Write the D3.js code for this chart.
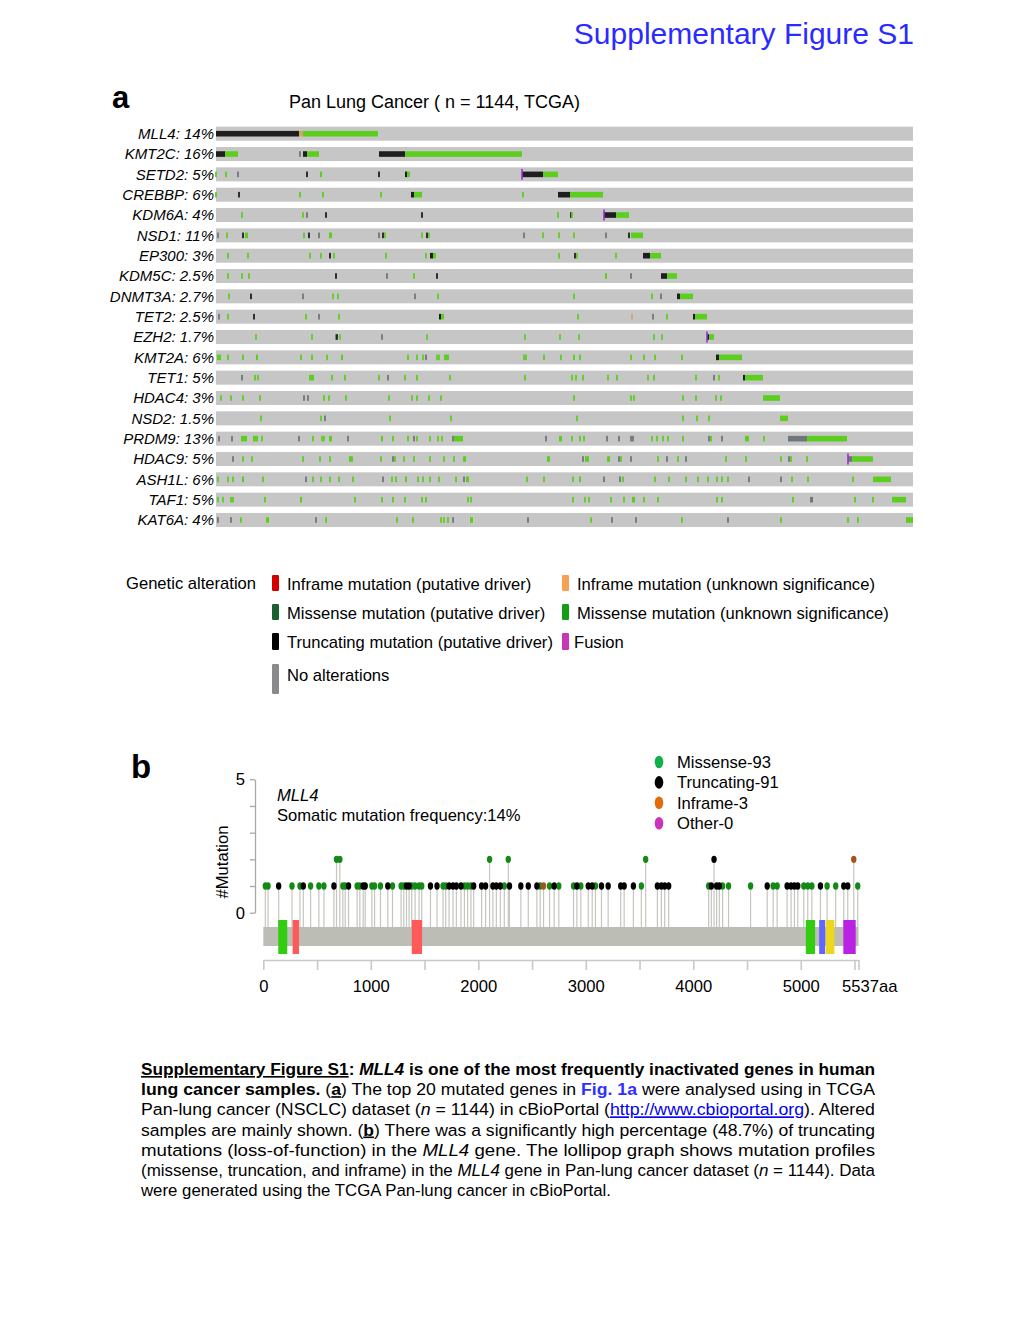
<!DOCTYPE html>
<html><head><meta charset="utf-8">
<script src="https://cdn.jsdelivr.net/npm/d3@7"></script>
<style>
body{margin:0;background:#fff;}
svg{display:block;font-family:"Liberation Sans",Arial,sans-serif;}
</style>
</head><body>
<svg id="fig" width="1020" height="1320"></svg>
<script>
// ---------- Panel a data (oncoprint) ----------
const genes = ["MLL4","KMT2C","SETD2","CREBBP","KDM6A","NSD1","EP300","KDM5C","DNMT3A","TET2",
  "EZH2","KMT2A","TET1","HDAC4","NSD2","PRDM9","HDAC9","ASH1L","TAF1","KAT6A"];
const geneFreq = ["14%","16%","5%","6%","4%","11%","3%","2.5%","2.7%","2.5%",
  "1.7%","6%","5%","3%","1.5%","13%","5%","6%","5%","4%"];
const nColumns = 697;
// [start column, end column, type] or [column, type]
const alterations = [
 [[0,83,'T'],[83,87,'i'],[87,162,'m']],
 [[0,9,'T'],[9,22,'m'],[84,'t'],[87,91,'T'],[91,103,'m'],[163,189,'T'],[189,306,'m']],
 [[0,'m'],[10,'m'],[22,'t'],[91,'T'],[104,106,'m'],[163,'T'],[189,191,'T'],[191,194,'m'],[306,327,'T'],[327,342,'m'],[306,'F']],
 [[0,'m'],[23,'T'],[84,'m'],[107,'m'],[165,'m'],[195,198,'T'],[198,206,'m'],[307,'m'],[342,354,'T'],[354,387,'m']],
 [[26,'m'],[87,'m'],[91,'t'],[110,'T'],[206,'T'],[342,'m'],[355,'T'],[356,'m'],[388,400,'T'],[400,413,'m'],[388,'F']],
 [[2,'t'],[11,'m'],[27,'T'],[29,32,'m'],[88,'m'],[93,'T'],[103,'t'],[113,116,'m'],[163,'t'],[167,'T'],[169,'m'],[206,'m'],[211,'T'],[213,'m'],[308,'t'],[327,'m'],[343,'m'],[358,'m'],[390,'t'],[413,'T'],[415,427,'m']],
 [[12,'m'],[32,'m'],[94,'m'],[105,'m'],[114,'T'],[118,'m'],[170,'m'],[210,'m'],[214,217,'T'],[217,220,'m'],[343,'m'],[359,'T'],[361,'m'],[400,'m'],[427,434,'T'],[434,445,'m']],
 [[12,'m'],[26,'m'],[33,'m'],[120,'T'],[171,'t'],[198,'m'],[221,'T'],[389,391,'m'],[415,'t'],[445,451,'T'],[451,461,'m']],
 [[13,'m'],[35,'T'],[87,'t'],[117,'m'],[122,'m'],[199,'t'],[222,'m'],[358,'m'],[436,'m'],[445,'t'],[461,464,'T'],[464,477,'m']],
 [[3,'t'],[12,'m'],[38,'T'],[90,'m'],[103,'t'],[123,'m'],[223,225,'T'],[225,228,'m'],[362,'m'],[416,'i'],[437,'t'],[451,'m'],[477,479,'T'],[479,491,'m']],
 [[40,'m'],[96,'m'],[120,'t'],[121,'T'],[124,'m'],[166,'t'],[211,'m'],[309,'m'],[344,'m'],[363,'m'],[438,'m'],[446,'m'],[491,493,'T'],[493,498,'m'],[491,'F']],
 [[1,5,'m'],[12,'m'],[27,'m'],[40,42,'m'],[85,'m'],[96,'m'],[111,'m'],[125,127,'m'],[192,'m'],[201,'m'],[207,'m'],[210,'t'],[221,'m'],[223,'m'],[228,233,'m'],[308,'m'],[310,'m'],[328,'m'],[345,'m'],[358,'m'],[364,'m'],[415,'m'],[428,'m'],[439,'m'],[466,'m'],[500,503,'T'],[503,526,'m']],
 [[26,'t'],[39,'m'],[42,'m'],[93,98,'m'],[116,'m'],[129,'m'],[163,'m'],[172,'t'],[189,'m'],[201,'m'],[234,'m'],[309,'m'],[356,'m'],[360,'m'],[367,'m'],[392,'m'],[401,'m'],[432,'m'],[438,'m'],[480,'m'],[498,'t'],[503,'m'],[527,529,'T'],[529,547,'m']],
 [[5,'m'],[15,'m'],[27,'m'],[44,'m'],[88,'t'],[92,'t'],[108,'m'],[113,'m'],[130,'m'],[173,'m'],[196,'m'],[201,'m'],[213,'m'],[225,'m'],[358,'m'],[415,'m'],[418,'m'],[467,'m'],[480,'m'],[500,'m'],[505,'m'],[547,564,'m']],
 [[45,'m'],[105,'m'],[109,'t'],[174,'m'],[235,'m'],[361,'m'],[467,'m'],[481,'m'],[493,'m'],[564,572,'m']],
 [[3,'t'],[16,'t'],[25,31,'m'],[37,42,'m'],[46,'m'],[83,'t'],[97,'m'],[106,'m'],[108,'m'],[113,116,'m'],[132,'t'],[165,167,'m'],[177,'m'],[192,'m'],[198,'t'],[201,'m'],[214,'m'],[222,'m'],[226,'m'],[237,'t'],[238,247,'m'],[330,'t'],[343,346,'m'],[356,'m'],[364,'m'],[368,'m'],[391,'t'],[403,'t'],[415,'t'],[417,'t'],[436,'m'],[441,'m'],[447,'m'],[452,'m'],[467,'m'],[493,'t'],[495,'m'],[506,'t'],[529,533,'m'],[548,'m'],[572,591,'t'],[591,631,'m']],
 [[17,'t'],[27,'m'],[36,'m'],[87,'m'],[104,'m'],[114,'m'],[133,137,'m'],[165,'m'],[177,'t'],[179,'m'],[188,'m'],[198,'m'],[214,'m'],[228,'m'],[238,'m'],[247,250,'m'],[331,334,'m'],[367,'t'],[369,373,'m'],[391,394,'m'],[403,'t'],[405,'m'],[415,'t'],[442,'m'],[451,'t'],[462,'m'],[470,'t'],[510,'m'],[530,'m'],[565,'m'],[573,'t'],[575,'m'],[591,'m'],[632,636,'t'],[636,657,'m'],[632,'F']],
 [[2,'m'],[12,'m'],[17,'m'],[26,28,'m'],[47,'m'],[90,'t'],[97,'m'],[105,'m'],[114,'m'],[123,'m'],[137,'m'],[167,'t'],[176,'m'],[180,'m'],[189,191,'m'],[202,'m'],[207,'m'],[214,'m'],[223,'m'],[240,'m'],[248,'t'],[250,253,'m'],[311,'m'],[328,'m'],[357,'m'],[363,365,'m'],[388,'t'],[404,'t'],[407,'m'],[439,'m'],[453,'m'],[470,'m'],[482,'m'],[492,'m'],[501,'m'],[506,'m'],[512,'m'],[533,'t'],[565,'t'],[576,'m'],[592,'m'],[637,'m'],[657,675,'m']],
 [[2,'m'],[7,'m'],[15,'m'],[17,'m'],[49,'m'],[84,86,'m'],[139,'m'],[166,'m'],[177,'m'],[189,'m'],[206,'m'],[210,'m'],[252,'m'],[255,'m'],[357,'m'],[369,'m'],[373,'m'],[395,'m'],[408,'m'],[416,419,'m'],[428,'m'],[442,'m'],[501,'m'],[506,'m'],[577,'m'],[594,597,'t'],[639,'m'],[657,'m'],[676,690,'m']],
 [[2,'t'],[15,'t'],[25,'m'],[50,53,'m'],[100,'t'],[110,'m'],[181,'m'],[197,'m'],[225,'m'],[228,'m'],[232,'m'],[237,'t'],[254,257,'m'],[312,'t'],[375,'m'],[396,'t'],[420,'t'],[466,'m'],[512,'t'],[565,'m'],[632,'m'],[642,'m'],[690,697,'m']]
];
const altColors = {T:"#1e1e1e", t:"#6f767c", m:"#5ccf1e", M:"#008000", i:"#cfa66c", F:"#9a2fd6"};

const legendLabels = ["Inframe mutation (putative driver)","Inframe mutation (unknown significance)",
  "Missense mutation (putative driver)","Missense mutation (unknown significance)",
  "Truncating mutation (putative driver)","Fusion","No alterations"];
const legendColors = ["#d40000","#f9a057","#1b5f2e","#12a012","#000000","#c935b2","#8a8a8a"];

// ---------- Panel b data (lollipop) ----------
const proteinLength = 5537;
const missensePos = [19,44,267,341,440,517,564,681,712,740,762,873,898,1010,1035,1090,1202,1282,1307,1381,1412,1449,1474,1672,1697,1871,1901,1932,2105,2242,2279,2576,2663,2749,2886,2954,3090,3517,3557,4143,4273,4328,4533,4743,4780,5028,5065,5103,5245,5325,5530];
const missenseCount = missensePos.map(p => [681,712,2105,2279,3557].includes(p) ? 2 : 1);
const truncPos = [143,372,657,793,929,948,1158,1332,1356,1555,1616,1728,1765,1796,1839,1957,2031,2068,2136,2168,2205,2290,2396,2465,2545,2706,2917,3023,3060,3146,3208,3325,3357,3443,3666,3703,3734,3771,4168,4193,4217,4242,4688,4873,4910,4941,4972,5183,5400,5437];
const truncCount = truncPos.map(p => p === 4193 ? 2 : 1);
const inframePos = [2607,5493];
const inframeCount = [1,2];
const domainStart = [139,273,1381,5047,5171,5233,5396];
const domainEnd   = [223,332,1477,5133,5227,5313,5511];
const domainColor = ["#33cc11","#ff5a5a","#ff5a5a","#33cc11","#6464ff","#ecd61e","#b922e2"];
const xTicks = [0,500,1000,1500,2000,2500,3000,3500,4000,4500,5000,5500,5537];
const lolliLegend = ["Missense-93","Truncating-91","Inframe-3","Other-0"];
const lolliLegendColor = ["#10b04a","#000000","#e36c0a","#cc33bb"];

// ---------- Caption ----------
const captionLines = [
 [{t:"Supplementary Figure S1",b:1,u:1},{t:": ",b:1},{t:"MLL4",b:1,i:1},{t:" is one of the most frequently inactivated genes in human",b:1}],
 [{t:"lung cancer samples.",b:1},{t:" ("},{t:"a",b:1,u:1},{t:") The top 20 mutated genes in "},{t:"Fig. 1a",b:1,c:"#2f2fff"},{t:" were analysed using in TCGA"}],
 [{t:"Pan-lung cancer (NSCLC) dataset ("},{t:"n",i:1},{t:" = 1144) in cBioPortal ("},{t:"http://www.cbioportal.org",u:1,c:"#0000ee"},{t:"). Altered"}],
 [{t:"samples are mainly shown. ("},{t:"b",b:1,u:1},{t:") There was a significantly high percentage (48.7%) of truncating"}],
 [{t:"mutations (loss-of-function) in the "},{t:"MLL4",i:1},{t:" gene. The lollipop graph shows mutation profiles"}],
 [{t:"(missense, truncation, and inframe) in the "},{t:"MLL4",i:1},{t:" gene in Pan-lung cancer dataset  ("},{t:"n",i:1},{t:" = 1144). Data"}],
 [{t:"were generated using the TCGA Pan-lung cancer in cBioPortal."}]
];
const captionWidths = [734,734,734,734,734,734,470];

// ================= DRAW =================
const svg = d3.select("#fig");
svg.append("rect").attr("width",1020).attr("height",1320).attr("fill","#fff");

svg.append("text").attr("x",914).attr("y",44).attr("text-anchor","end")
  .attr("font-size",30).attr("fill","#2b2bff").text("Supplementary Figure S1");

// ---- panel a ----
svg.append("text").attr("x",112).attr("y",108).attr("font-size",31).attr("font-weight","bold").text("a");
svg.append("text").attr("x",289).attr("y",108).attr("font-size",18).text("Pan Lung Cancer ( n = 1144, TCGA)");

const xo = d3.scaleLinear().domain([0,nColumns]).range([216,913]);
const yo = d3.scaleBand().domain(genes).range([126.7,527]).paddingInner(0.311).paddingOuter(0);
const bw = yo.bandwidth();

const rows = svg.append("g").selectAll("g").data(genes).join("g");
rows.append("rect").attr("x",xo(0)).attr("width",xo(nColumns)-xo(0))
  .attr("y",d=>yo(d)).attr("height",bw).attr("fill","#c6c6c6");
rows.append("text").attr("x",214).attr("y",d=>yo(d)+bw/2+5.2).attr("text-anchor","end")
  .attr("font-size",15).attr("font-style","italic")
  .text((d,i)=>d+": "+geneFreq[i]);

genes.forEach((g,gi)=>{
  const marks = alterations[gi].map(a => a.length===2 ? {s:a[0],e:a[0],type:a[1]} : {s:a[0],e:a[1],type:a[2]});
  const grp = svg.append("g");
  grp.selectAll("rect").data(marks.filter(m=>m.type!=='F')).join("rect")
    .attr("x",m=> m.e>m.s ? xo(m.s) : xo(m.s)-0.9)
    .attr("width",m=> Math.max(xo(m.e)-xo(m.s),1.8))
    .attr("y",yo(g)+bw/2-2.8).attr("height",5.6)
    .attr("fill",m=>altColors[m.type]);
  grp.selectAll("rect.f").data(marks.filter(m=>m.type==='F')).join("rect").attr("class","f")
    .attr("x",m=>xo(m.s)-0.8).attr("width",1.6)
    .attr("y",yo(g)+1.5).attr("height",bw-3)
    .attr("fill",altColors.F);
});

// legend a
svg.append("text").attr("x",126).attr("y",589).attr("font-size",16.6).text("Genetic alteration");
const legPos = [[272,575,16],[562,575,16],[272,604,16],[562,604,16],[272,633,17],[562,633,17],[272,664,30]];
legendLabels.forEach((lab,i)=>{
  const [lx,ly,lh] = legPos[i];
  svg.append("rect").attr("x",lx).attr("y",ly).attr("width",7).attr("height",lh).attr("rx",1.2)
    .attr("fill",legendColors[i]);
  const tx = lab==="Fusion" ? lx+12 : lx+15;
  const ty = lab==="No alterations" ? 681 : ly+15;
  svg.append("text").attr("x",tx).attr("y",ty).attr("font-size",16.6).text(lab);
});

// ---- panel b ----
svg.append("text").attr("x",131).attr("y",778).attr("font-size",33).attr("font-weight","bold").text("b");

const xl = d3.scaleLinear().domain([0,proteinLength]).range([263.3,858.5]);
const yl = d3.scaleLinear().domain([0,5]).range([912.7,779.3]);
const barTop = 927, barBot = 946;

const lollis = [];
missensePos.forEach((p,i)=>lollis.push({p,c:missenseCount[i],col:"#138a16"}));
truncPos.forEach((p,i)=>lollis.push({p,c:truncCount[i],col:"#000"}));
inframePos.forEach((p,i)=>lollis.push({p,c:inframeCount[i],col:"#a8521e"}));

// y axis
const yAx = svg.append("g").attr("transform","translate(255,0)")
  .call(d3.axisLeft(yl).tickValues([0,1,2,3,4,5]).tickFormat(d=> (d===0||d===5)? d : "")
    .tickSize(5).tickSizeOuter(0).tickPadding(5));
yAx.select(".domain").attr("stroke","#a8a8a8").attr("stroke-width",1.3);
yAx.selectAll(".tick line").attr("stroke","#a8a8a8").attr("stroke-width",1.3);
yAx.selectAll("text").attr("font-size",16.6).attr("fill","#000").attr("font-family","Liberation Sans, Arial, sans-serif");

svg.append("text").attr("transform","translate(228,862) rotate(-90)").attr("text-anchor","middle")
  .attr("font-size",16.6).text("#Mutation");

svg.append("text").attr("x",277).attr("y",801).attr("font-size",16.6).attr("font-style","italic").text("MLL4");
svg.append("text").attr("x",277).attr("y",821).attr("font-size",16.6).text("Somatic mutation frequency:14%");

// stems
svg.append("g").selectAll("line").data(lollis).join("line")
  .attr("x1",d=>xl(d.p)).attr("x2",d=>xl(d.p))
  .attr("y1",d=>yl(d.c)).attr("y2",barTop)
  .attr("stroke","#c4c6bf").attr("stroke-width",1.2);

// protein bar
svg.append("rect").attr("x",xl(0)).attr("width",xl(proteinLength)-xl(0))
  .attr("y",barTop).attr("height",barBot-barTop).attr("fill","#bcbeb6");
svg.append("g").selectAll("rect").data(domainStart).join("rect")
  .attr("x",(d)=>xl(d)).attr("width",(d,i)=>xl(domainEnd[i])-xl(d))
  .attr("y",920).attr("height",34).attr("fill",(d,i)=>domainColor[i]);

// circles
svg.append("g").selectAll("ellipse").data(lollis).join("ellipse")
  .attr("cx",d=>xl(d.p)).attr("cy",d=>yl(d.c)).attr("rx",2.7).attr("ry",3.7)
  .attr("fill",d=>d.col);

// x axis
const xAx = svg.append("g").attr("transform","translate(0,960)")
  .call(d3.axisBottom(xl).tickValues(xTicks)
    .tickFormat(d=> d===proteinLength ? "5537aa" : (d%1000===0 ? d : ""))
    .tickSize(10).tickSizeOuter(0).tickPadding(10));
xAx.select(".domain").attr("stroke","#c8c8c8").attr("stroke-width",1.6);
xAx.selectAll(".tick line").attr("stroke","#c8c8c8").attr("stroke-width",1.6);
xAx.selectAll("text").attr("font-size",16.6).attr("fill","#000").attr("font-family","Liberation Sans, Arial, sans-serif");
xAx.selectAll(".tick").filter(d=>d===proteinLength).select("text").attr("text-anchor","start").attr("dx",-17);

// lollipop legend
lolliLegend.forEach((lab,i)=>{
  const cy = 762 + i*20.4;
  svg.append("ellipse").attr("cx",659).attr("cy",cy).attr("rx",4.3).attr("ry",6.3).attr("fill",lolliLegendColor[i]);
  svg.append("text").attr("x",677).attr("y",cy+6).attr("font-size",16.6).text(lab);
});

// ---- caption ----
captionLines.forEach((line,li)=>{
  const t = svg.append("text").attr("x",141).attr("y",1075 + li*20.17).attr("font-size",16.3)
    .attr("textLength",captionWidths[li]).attr("lengthAdjust","spacingAndGlyphs");
  line.forEach(s=>{
    const ts = t.append("tspan").text(s.t);
    if(s.b) ts.attr("font-weight","bold");
    if(s.i) ts.attr("font-style","italic");
    if(s.u) ts.attr("text-decoration","underline");
    if(s.c) ts.attr("fill",s.c);
  });
});
</script>
</body></html>
